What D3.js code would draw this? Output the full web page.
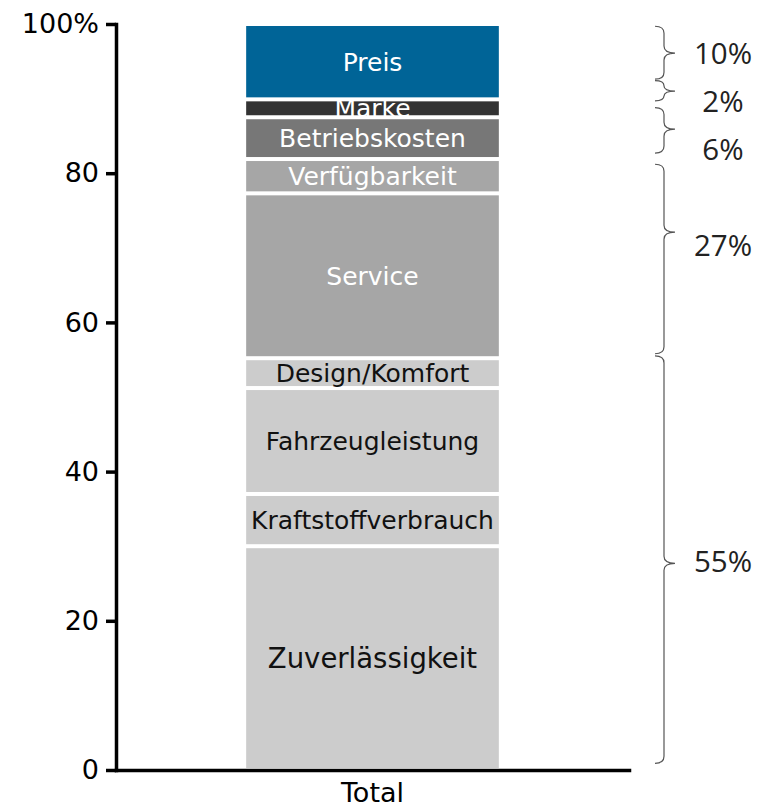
<!DOCTYPE html>
<html>
<head>
<meta charset="utf-8">
<script src="https://cdn.jsdelivr.net/npm/d3@7"></script>
<style>
    body { margin: 0; background: #fff; }
    svg { display: block; }
</style>
</head>
<body>
<div class="chart"></div>
<script>
// segment shares, bottom to top
const categories = ['Zuverlässigkeit', 'Kraftstoffverbrauch', 'Fahrzeugleistung', 'Design/Komfort',
    'Service', 'Verfügbarkeit', 'Betriebskosten', 'Marke', 'Preis'];
const shares = [30.0, 7.0, 14.2, 4.0, 22.1, 4.6, 5.6, 2.4, 10.1];
const barName = ['Total'];
const yTicks = [0, 20, 40, 60, 80, 100];

// brackets on the right (bottom to top)
const groupLabels = ['55%', '27%', '6%', '2%', '10%'];
const groupFrom = [0.9, 55.8, 82.7, 89.7, 92.6];
const groupTo = [55.5, 81.2, 88.8, 92.4, 99.7];
const groupTip = [27.7, 72.1, 85.9, 91.0, 96.1];

const fills = ['#cccccc', '#cccccc', '#cccccc', '#cccccc', '#a6a6a6', '#a6a6a6', '#777777', '#333333', '#006497'];
const textFills = ['#111', '#111', '#111', '#111', '#fff', '#fff', '#fff', '#fff', '#fff'];

const width = 769, height = 808;
const svg = d3.select('.chart')
    .append('svg')
    .attr('width', width)
    .attr('height', height);

let x_scale = d3.scaleBand()
    .domain(barName)
    .range([116, 629])
    .padding(0.34);
let y_scale = d3.scaleLinear()
    .domain([0, 100])
    .range([770, 24]);

// stack
let segs = [];
let acc = 0;
for (let i = 0; i < categories.length; i++) {
    segs.push({name: categories[i], y0: acc, y1: acc + shares[i], fill: fills[i], text: textFills[i]});
    acc += shares[i];
}

const gap = 2;
svg.append('g')
    .selectAll('rect')
    .data(segs)
    .join('rect')
    .attr('x', x_scale('Total'))
    .attr('width', x_scale.bandwidth())
    .attr('y', d => y_scale(d.y1) + gap)
    .attr('height', d => y_scale(d.y0) - y_scale(d.y1) - 2 * gap)
    .attr('fill', d => d.fill);

svg.append('g')
    .selectAll('text')
    .data(segs)
    .join('text')
    .attr('x', x_scale('Total') + x_scale.bandwidth() / 2)
    .attr('y', d => y_scale((d.y0 + d.y1) / 2))
    .attr('dy', '0.36em')
    .attr('text-anchor', 'middle')
    .attr('font-family', '"DejaVu Sans", Verdana, sans-serif')
    .attr('font-size', d => d.name === 'Zuverlässigkeit' ? 27.5 : 25)
    .attr('fill', d => d.text)
    .text(d => d.name);

// axes
let y_Axis = d3.axisLeft(y_scale)
    .tickValues(yTicks)
    .tickSize(10)
    .tickSizeOuter(0)
    .tickPadding(7)
    .tickFormat(d => d === 100 ? '100%' : d);
let x_Axis = d3.axisBottom(x_scale)
    .tickSize(0)
    .tickSizeOuter(0)
    .tickPadding(13);

let gy = svg.append('g')
    .attr('transform', 'translate(116,0)')
    .call(y_Axis);
let gx = svg.append('g')
    .attr('transform', 'translate(0,770)')
    .call(x_Axis);

[gx, gy].forEach(g => {
    g.select('.domain').attr('stroke', '#000').attr('stroke-width', 3.5).attr('stroke-linecap', 'square');
    g.selectAll('.tick line').attr('stroke', '#000').attr('stroke-width', 3.5);
    g.selectAll('.tick text')
        .attr('fill', '#000')
        .attr('font-family', '"DejaVu Sans", Verdana, sans-serif')
        .attr('font-size', 27);
});

// brackets
const spine = 664, hook = 655, tip = 675;
function bracePath(yTop, yBot, yTip) {
    let r = Math.min(7, (yBot - yTop) / 4);
    return `M${hook},${yTop} Q${spine},${yTop} ${spine},${yTop + r}`
        + ` L${spine},${yTip - r} Q${spine},${yTip} ${tip},${yTip}`
        + ` Q${spine},${yTip} ${spine},${yTip + r}`
        + ` L${spine},${yBot - r} Q${spine},${yBot} ${hook},${yBot}`;
}

let groups = groupLabels.map((l, i) => ({
    label: l,
    top: y_scale(groupTo[i]),
    bot: y_scale(groupFrom[i]),
    tip: y_scale(groupTip[i])
}));
groups.sort((a, b) => a.tip - b.tip);
let last = -Infinity;
groups.forEach(g => {
    // label sits between the brace tip and the brace middle, pushed apart if crowded
    let want = (g.tip + (g.top + g.bot) / 2) / 2;
    g.ly = Math.max(want, last + 48);
    last = g.ly;
});

svg.append('g')
    .selectAll('path')
    .data(groups)
    .join('path')
    .attr('d', d => bracePath(d.top, d.bot, d.tip))
    .attr('fill', 'none')
    .attr('stroke', '#555')
    .attr('stroke-width', 1.2);

svg.append('g')
    .selectAll('text')
    .data(groups)
    .join('text')
    .attr('x', 723)
    .attr('y', d => d.ly)
    .attr('dy', '0.36em')
    .attr('text-anchor', 'middle')
    .attr('font-family', '"Open Sans", "Noto Sans", sans-serif')
    .attr('font-size', 29.5)
    .attr('fill', '#222')
    .text(d => d.label);
</script>
</body>
</html>
